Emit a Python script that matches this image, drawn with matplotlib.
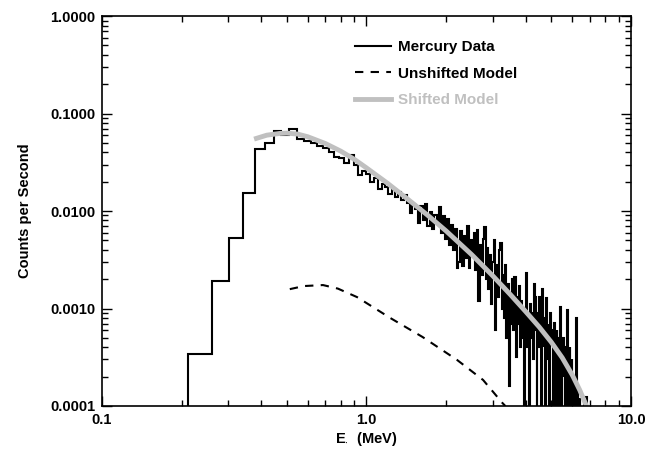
import numpy as np
import matplotlib
matplotlib.use('Agg')
import matplotlib.pyplot as plt
from matplotlib.ticker import FixedLocator, LogLocator, NullFormatter, FuncFormatter
from matplotlib.lines import Line2D

plt.rcParams['font.family'] = ['Liberation Sans', 'DejaVu Sans']
plt.rcParams['font.weight'] = 'bold'
plt.rcParams['mathtext.fontset'] = 'custom'
plt.rcParams['mathtext.rm'] = 'Liberation Sans:bold'

# Mercury data histogram: explicit low-energy bin edges, then uniform bins
low_edges = [0.1, 0.2115, 0.2606, 0.302, 0.341, 0.379, 0.413, 0.447, 0.475]
low_counts = [0.0, 0.00034, 0.00191, 0.00529, 0.0153, 0.0430, 0.0496, 0.0664]
bin_width = 0.035
noisy_counts = [
    0.060, 0.069, 0.055, 0.052, 0.050, 0.047, 0.044, 0.040, 0.036, 0.035,
    0.031, 0.0375, 0.0295, 0.0235, 0.026, 0.024, 0.020, 0.022, 0.017, 0.019,
    0.0175, 0.015, 0.0165, 0.0140, 0.0155, 0.0130, 0.0145, 0.0120, 0.0095, 0.0118,
    0.0105, 0.0075, 0.0112, 0.0080, 0.0118, 0.0070, 0.0098, 0.0065, 0.0092, 0.0078,
    0.0110, 0.0060, 0.0088, 0.0052, 0.0082, 0.0045, 0.0072, 0.0040, 0.0065, 0.0026,
    0.0030, 0.0062, 0.0027, 0.0055, 0.0033, 0.0070, 0.0026, 0.0050, 0.0036, 0.0060,
    0.0025, 0.0064, 0.0012, 0.0045, 0.0022, 0.0052, 0.0068, 0.0020, 0.0042, 0.0016,
    0.0035, 0.0011, 0.0030, 0.0050, 0.0006, 0.0028, 0.0013, 0.0040, 0.0047, 0.0010,
    0.0022, 0.0008, 0.0028, 0.0005, 0.0018, 0.00016, 0.0014, 0.0007, 0.0020, 0.0006,
    0.0021, 0.00032, 0.0013, 0.0007, 0.0017, 0.0004, 0.0012, 0.0005, 0.0010, 0.0,
    0.0009, 0.0023, 0.0004, 0.0008, 0.0, 0.0011, 0.0005, 0.0009, 0.0003, 0.0018,
    0.0013, 0.0006, 0.0, 0.0009, 0.0004, 0.0013, 0.0005, 0.0, 0.0016, 0.0007,
    0.0004, 0.0008, 0.0, 0.00128, 0.0005, 0.0003, 0.0007, 0.0, 0.0009, 0.0005,
    0.0006, 0.0, 0.0004, 0.00071, 0.0003, 0.0, 0.0006, 0.0003, 0.0005, 0.0,
    0.0003, 0.00104, 0.0, 0.0004, 0.0002, 0.0005, 0.0003, 0.0, 0.0004, 0.0,
    0.00096, 0.0, 0.0003, 0.0, 0.0004, 0.0002, 0.0, 0.0003, 0.0, 0.0002,
    0.0, 0.0002, 0.0, 0.00015, 0.0008, 0.0, 0.00015, 0.0, 0.0, 0.00012,
    0.0, 0.0, 0.0, 0.0, 0.0, 0.0, 0.00012, 0.000124, 0.000124, 0.000124,
    0.000124, 0.000124, 0.0, 0.0, 0.0, 0.0, 0.0, 0.0,
]
data_end = 10.0

# Model curves (energy in MeV, counts per second)
unshifted_e = [0.513, 0.58, 0.685, 0.78, 0.921, 1.23, 1.63, 2.20, 2.76, 3.27, 3.35]
unshifted_y = [0.00158, 0.00170, 0.00174, 0.00160, 0.00131, 0.00080, 0.00051,
               0.000297, 0.000185, 0.000107, 0.0001]
shifted_e = [0.376, 0.42, 0.47, 0.50, 0.55, 0.60, 0.70, 0.80, 0.90, 1.0, 1.2, 1.4,
             1.7, 2.0, 2.5, 3.0, 3.5, 4.0, 4.5, 5.0, 5.5, 6.0, 6.4, 6.8]
shifted_y = [0.0547, 0.0600, 0.0625, 0.0630, 0.0615, 0.0578, 0.0492, 0.0411,
             0.0339, 0.0277, 0.0193, 0.0139, 0.0091, 0.00625, 0.00357, 0.00217,
             0.00139, 0.00093, 0.000646, 0.000451, 0.000312, 0.000208, 0.000146,
             0.0000991]

legend_labels = ['Mercury Data', 'Unshifted Model', 'Shifted Model']
gray = '#c0c0c0'

# build histogram edges
n = len(noisy_counts)
noisy_edges = low_edges[-1] + bin_width * np.arange(1, n + 1)
edges = np.concatenate([low_edges, noisy_edges, [data_end]])
counts = np.concatenate([low_counts, noisy_counts, [0.0]])
counts_plot = np.where(counts > 0, counts, 1e-6)

fig = plt.figure(figsize=(6.6, 4.55), dpi=100)
ax = fig.add_axes([0.1545, 0.1077, 0.8015, 0.857])

ax.stairs(counts_plot, edges, color='black', linewidth=1.5, baseline=None)
ax.plot(unshifted_e, unshifted_y, color='black', linewidth=1.5,
        linestyle=(0, (4, 3.5)))
ax.plot(shifted_e, shifted_y, color=gray, linewidth=3.5, solid_capstyle='butt')

ax.set_xscale('log')
ax.set_yscale('log')
ax.set_xlim(0.1, 10.0)
ax.set_ylim(0.0001, 1.0)

ax.xaxis.set_major_locator(FixedLocator([0.1, 1.0, 10.0]))
ax.xaxis.set_minor_locator(LogLocator(base=10, subs=np.arange(2, 10)))
ax.xaxis.set_minor_formatter(NullFormatter())
ax.xaxis.set_major_formatter(FuncFormatter(lambda v, p: '%.1f' % v))
ax.yaxis.set_major_locator(FixedLocator([0.0001, 0.001, 0.01, 0.1, 1.0]))
ax.yaxis.set_minor_locator(LogLocator(base=10, subs=np.arange(2, 10)))
ax.yaxis.set_minor_formatter(NullFormatter())
ax.yaxis.set_major_formatter(FuncFormatter(lambda v, p: '%.4f' % v))

ax.tick_params(which='both', direction='in', top=True, right=True, width=1.0,
               labelsize=10.5, colors='black')
ax.tick_params(which='major', length=7, pad=5)
ax.tick_params(which='minor', length=4)
for s in ax.spines.values():
    s.set_linewidth(1.2)
for lab in ax.get_xticklabels() + ax.get_yticklabels():
    lab.set_fontweight('bold')

ax.set_xlabel(r'E$_{\cdot}$  (MeV)', fontsize=10.5, fontweight='bold', labelpad=2)
ax.set_ylabel('Counts per Second', fontsize=10.5, fontweight='bold', labelpad=13)

handles = [Line2D([], [], color='black', linewidth=1.5),
           Line2D([], [], color='black', linewidth=1.5, linestyle=(0, (4, 3.5))),
           Line2D([], [], color=gray, linewidth=3.5)]
leg = ax.legend(handles, legend_labels, loc='upper left', bbox_to_anchor=(0.478, 0.9375),
                frameon=False, borderpad=0, borderaxespad=0, handlelength=2.4,
                handletextpad=0.45, labelspacing=0.8, prop={'weight': 'bold', 'size': 11})
for t, c in zip(leg.get_texts(), ['black', 'black', gray]):
    t.set_color(c)

fig.savefig('out.png', dpi=100)
